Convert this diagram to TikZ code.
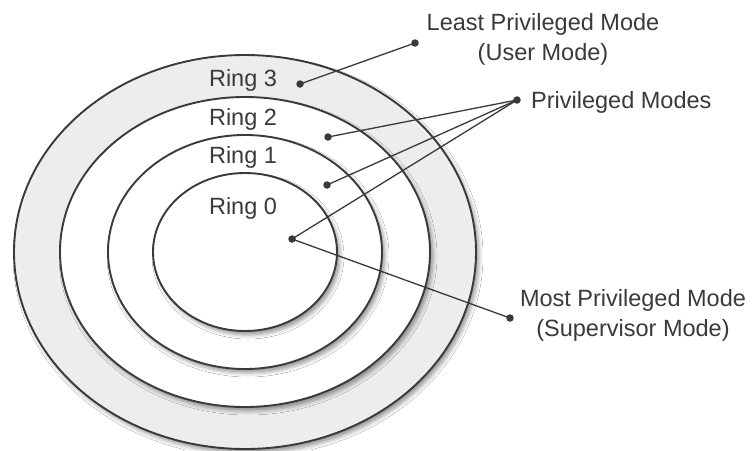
\documentclass[tikz,border=0pt]{standalone}
\usepackage{fontspec}
\setmainfont{Liberation Sans}
\usetikzlibrary{shadows.blur}
\definecolor{ink}{HTML}{3A3A3A}
\definecolor{band}{HTML}{EDEDED}
\begin{document}
\begin{tikzpicture}[x=1pt,y=-1pt,
  ring/.style={draw=ink, line width=1.9pt, fill=white},
  shad/.style={blur shadow={shadow xshift=3pt, shadow yshift=-4pt, shadow blur radius=4pt, shadow opacity=40}},
  dot/.style={circle, fill=ink, inner sep=0pt, minimum size=7.5pt},
  lead/.style={draw=ink, line width=1.3pt},
  lab/.style={text=ink, font=\fontsize{23.5}{30}\selectfont, inner sep=0pt}]
\useasboundingbox (0,0) rectangle (752,450);
\fill[white] (0,0) rectangle (752,450);
% rings
\draw[ring, fill=band, shad] (245,252) ellipse [x radius=231, y radius=197];
\draw[ring, shad] (245,252) ellipse [x radius=185, y radius=155];
\draw[ring, shad] (245,252) ellipse [x radius=137, y radius=117];
\draw[ring, shad] (245,252) ellipse [x radius=92, y radius=79];
% ring labels
\node[lab, anchor=base] (r3) at (243,86) {Ring 3};
\node[lab, anchor=base] (r2) at (243,125) {Ring 2};
\node[lab, anchor=base] (r1) at (243,163) {Ring 1};
\node[lab, anchor=base] (r0) at (243,214) {Ring 0};
% dots
\node[dot] (d3) at (300,84) {};
\node[dot] (d2) at (328,137) {};
\node[dot] (d1) at (327,185) {};
\node[dot] (d0) at (292,239) {};
\node[dot] (dl) at (415,43) {};
\node[dot] (dp) at (517,100) {};
\node[dot] (dm) at (510,318) {};
% connectors
\draw[lead] (dl.center) -- (d3.center);
\draw[lead] (dp.center) -- (d2.center);
\draw[lead] (dp.center) -- (d1.center);
\draw[lead] (dp.center) -- (d0.center);
\draw[lead] (dm.center) -- (d0.center);
% labels
\node[lab, anchor=base, align=center] (least) at (543,60) {Least Privileged Mode\\(User Mode)};
\node[lab, anchor=base west] (priv) at (531,108) {Privileged Modes};
\node[lab, anchor=base, align=center] (most) at (633,336) {Most Privileged Mode\\(Supervisor Mode)};
\end{tikzpicture}
\end{document}
